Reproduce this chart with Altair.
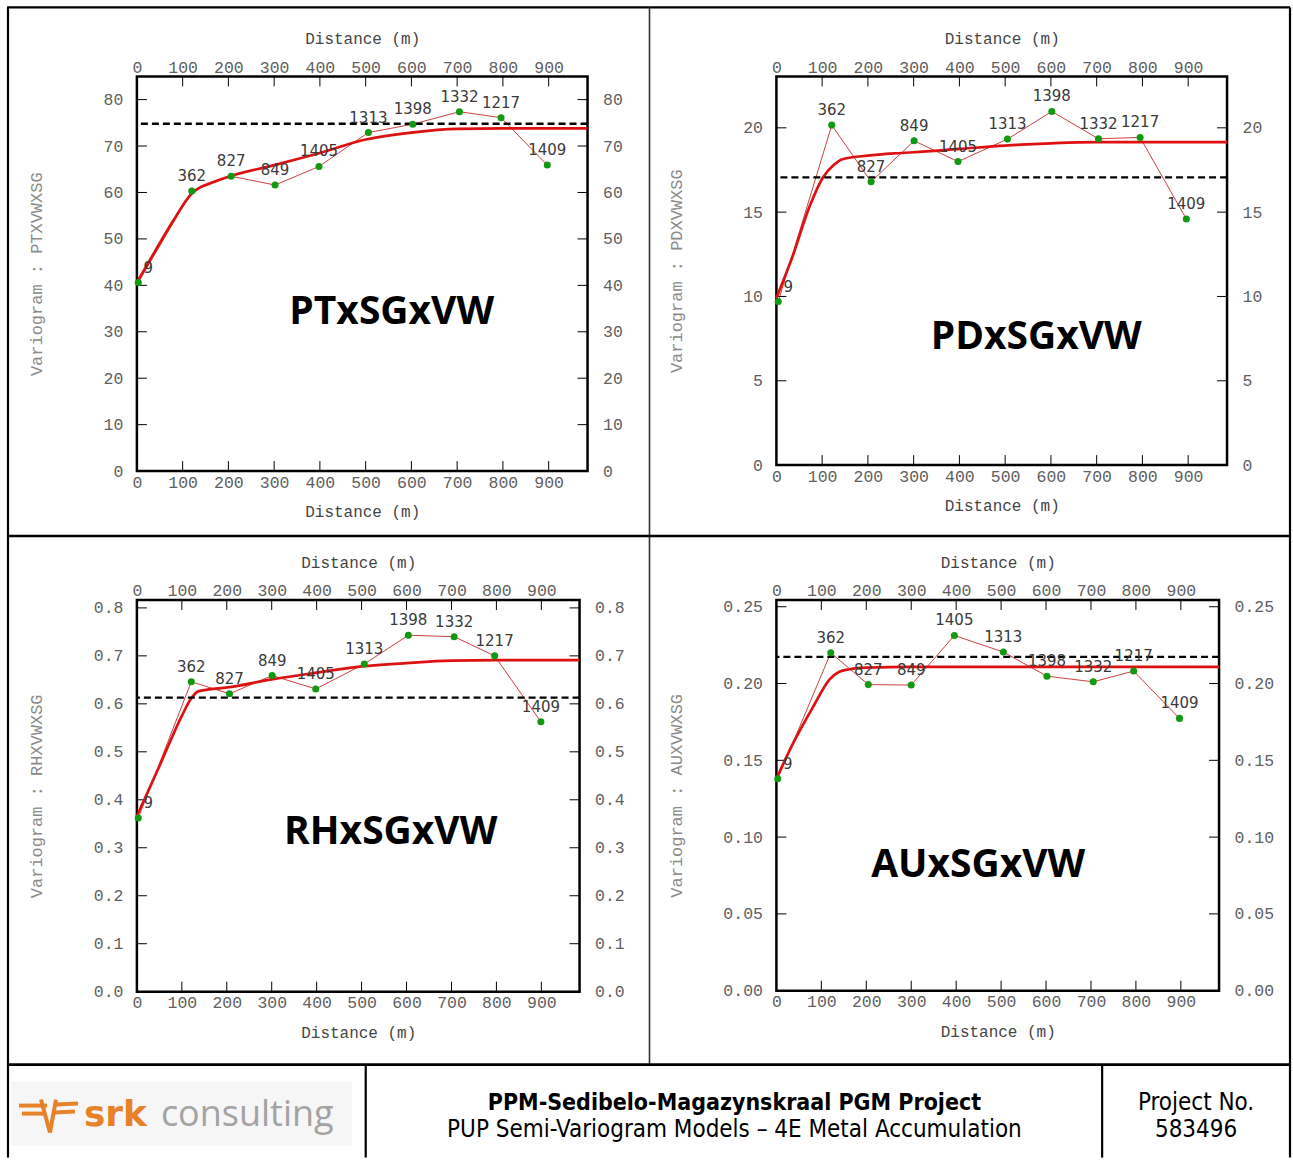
import altair as alt
import pandas as pd

# ---------------- data ----------------
x_ticks = [0, 100, 200, 300, 400, 500, 600, 700, 800, 900]
x_max = 985
pairs = ["9", "362", "827", "849", "1405", "1313", "1398", "1332", "1217", "1409"]

pt_lag = [3, 120, 206, 302, 398, 506, 603, 705, 796, 897]
pt_gam = [40.6, 60.3, 63.5, 61.6, 65.6, 72.9, 74.7, 77.4, 76.1, 65.9]
pt_sill = 74.8
pt_mod_h = [0, 40, 80, 120, 140, 160, 200, 300, 400, 500, 600, 700, 800, 985]
pt_mod_g = [40.6, 47.4, 54.0, 59.8, 61.2, 62.0, 63.4, 65.9, 68.5, 71.4, 72.9, 73.7, 73.8, 73.8]
pt_yticks = [0, 10, 20, 30, 40, 50, 60, 70, 80]

pd_lag = [4, 121, 207, 301, 397, 505, 602, 704, 795, 896]
pd_gam = [9.7, 20.16, 16.8, 19.23, 18.0, 19.33, 20.97, 19.35, 19.43, 14.59]
pd_sill = 17.06
pd_mod_h = [0, 35, 72, 102, 124, 146, 200, 257, 300, 400, 500, 600, 700, 800, 985]
pd_mod_g = [9.9, 12.35, 15.3, 17.07, 17.76, 18.15, 18.35, 18.48, 18.55, 18.75, 18.95, 19.08, 19.15, 19.15, 19.15]
pd_yticks = [0, 5, 10, 15, 20]

rh_lag = [3, 121, 206, 301, 398, 506, 604, 706, 796, 899]
rh_gam = [0.362, 0.646, 0.621, 0.659, 0.631, 0.683, 0.743, 0.740, 0.700, 0.5625]
rh_sill = 0.613
rh_mod_h = [0, 50, 100, 120, 136, 160, 200, 300, 400, 500, 600, 700, 800, 985]
rh_mod_g = [0.366, 0.47, 0.575, 0.61, 0.626, 0.63, 0.634, 0.651, 0.665, 0.678, 0.685, 0.690, 0.691, 0.691]
rh_yticks = [0.0, 0.1, 0.2, 0.3, 0.4, 0.5, 0.6, 0.7, 0.8]

au_lag = [3, 121, 204.5, 300, 396, 505, 602, 705, 795, 897]
au_gam = [0.138, 0.220, 0.1993, 0.199, 0.2313, 0.2205, 0.2048, 0.2011, 0.2081, 0.1773]
au_sill = 0.2174
au_mod_h = [0, 37, 82, 118, 140, 163, 200, 300, 500, 700, 985]
au_mod_g = [0.138, 0.161, 0.185, 0.2026, 0.2077, 0.2093, 0.2103, 0.2108, 0.2108, 0.2108, 0.2108]
au_yticks = [0.0, 0.05, 0.10, 0.15, 0.20, 0.25]

MONO = "Liberation Mono"
one = pd.DataFrame({"k": [0]})


def panel(name, ytitle, lag, gam, sill, mh, mg, yticks, ymax, fmt, W, H, tx, ty):
    df = pd.DataFrame({"lag": lag, "gam": gam, "pairs": pairs})
    mdf = pd.DataFrame({"h": mh, "g": mg})
    sdf = pd.DataFrame({"s": [sill]})
    xtdf = pd.DataFrame({"t": x_ticks[1:]})
    ytdf = pd.DataFrame({"t": yticks[1:]})
    xs = alt.Scale(domain=[0, x_max], nice=False, zero=False)
    ys = alt.Scale(domain=[0, ymax], nice=False, zero=False)
    common = dict(labelFont=MONO, labelFontSize=16.5, labelColor="#606060", ticks=False,
                  domain=False, grid=False, labelFlush=False, labelOverlap=False)
    xb = alt.Axis(orient="bottom", values=x_ticks, title="Distance (m)", labelPadding=3,
                  titlePadding=13, titleFont=MONO, titleFontSize=16, titleFontWeight="normal",
                  titleColor="#444444", **common)
    xt = alt.Axis(orient="top", values=x_ticks, title="Distance (m)", labelPadding=1,
                  titlePadding=13, titleFont=MONO, titleFontSize=16, titleFontWeight="normal",
                  titleColor="#444444", **common)
    yl = alt.Axis(orient="left", values=yticks, format=fmt, title=ytitle, titleX=-100,
                  titleY=H / 2, titleBaseline="middle", titleFont=MONO, titleFontSize=17,
                  titleFontWeight="normal", titleColor="#8a8a8a", labelPadding=14, **common)
    yr = alt.Axis(orient="right", values=yticks, format=fmt, title=None, labelPadding=15, **common)

    thin = alt.Chart(df).mark_line(color="#cc4040", strokeWidth=1).encode(
        x=alt.X("lag:Q", scale=xs, axis=xb), y=alt.Y("gam:Q", scale=ys, axis=yl))
    model = alt.Chart(mdf).mark_line(color="#dd1111", strokeWidth=2.7, interpolate="monotone").encode(
        x=alt.X("h:Q", scale=xs, axis=None), y=alt.Y("g:Q", scale=ys, axis=None))
    sill_r = alt.Chart(sdf).mark_rule(color="black", strokeWidth=2.3, strokeDash=[7, 4]).encode(
        y=alt.Y("s:Q", scale=ys, axis=None))
    pts = alt.Chart(df).mark_circle(size=50, color="#119911", opacity=1).encode(
        x=alt.X("lag:Q", scale=xs, axis=None), y=alt.Y("gam:Q", scale=ys, axis=None))
    labs = alt.Chart(df.iloc[1:]).mark_text(dy=-15, font="DejaVu Sans", fontSize=15,
                                            color="#3a3a3a", clip=True).encode(
        x=alt.X("lag:Q", scale=xs, axis=None), y=alt.Y("gam:Q", scale=ys, axis=None), text="pairs:N")
    lab0 = alt.Chart(df.iloc[:1]).mark_text(dy=-15, dx=10, font="DejaVu Sans", fontSize=15,
                                            color="#3a3a3a", clip=True).encode(
        x=alt.X("lag:Q", scale=xs, axis=None), y=alt.Y("gam:Q", scale=ys, axis=None), text="pairs:N")
    tk = 10
    xt_top = alt.Chart(xtdf).mark_rule(color="black", strokeWidth=1).encode(
        x=alt.X("t:Q", scale=xs, axis=None), y=alt.value(0), y2=alt.value(tk))
    xt_bot = alt.Chart(xtdf).mark_rule(color="black", strokeWidth=1).encode(
        x=alt.X("t:Q", scale=xs, axis=None), y=alt.value(H - tk), y2=alt.value(H))
    yt_l = alt.Chart(ytdf).mark_rule(color="black", strokeWidth=1).encode(
        y=alt.Y("t:Q", scale=ys, axis=None), x=alt.value(0), x2=alt.value(tk))
    yt_r = alt.Chart(ytdf).mark_rule(color="black", strokeWidth=1).encode(
        y=alt.Y("t:Q", scale=ys, axis=None), x=alt.value(W - tk), x2=alt.value(W))
    ax2 = alt.Chart(df).mark_point(opacity=0).encode(
        x=alt.X("lag:Q", scale=xs, axis=xt), y=alt.Y("gam:Q", scale=ys, axis=yr))
    big = alt.Chart(one).mark_text(text=name, font="Open Sans", fontSize=39, fontWeight="bold",
                                   color="black").encode(x=alt.value(tx), y=alt.value(ty))
    layers = [thin, xt_top, xt_bot, yt_l, yt_r, model, sill_r, pts, labs, lab0, ax2, big]
    return layers


# geometry (plot origins); decorations are drawn relative to panel 1's origin
OX, OY = 137, 77
YB = 1159


def R(x, x2, y, y2, sw=2, color="black"):
    return alt.Chart(one).mark_rule(color=color, strokeWidth=sw).encode(
        x=alt.value(x - OX), x2=alt.value(x2 - OX), y=alt.value(y - OY), y2=alt.value(y2 - OY))


def T(txt, x, y, size, weight="normal", font="Liberation Sans Narrow, DejaVu Sans Condensed, sans-serif",
      color="black", align="center"):
    return alt.Chart(one).mark_text(text=txt, font=font, fontSize=size, fontWeight=weight, color=color,
                                    align=align, baseline="alphabetic").encode(
        x=alt.value(x - OX), y=alt.value(y - OY))


deco = [
    R(7, 1291, 8, 8, 2.2),
    R(8, 8, 8, YB, 2.2),
    R(1291, 1291, 8, YB, 2.2),
    R(650, 650, 8, 1066, 1.6, "#333333"),
    R(8, 1291, 537, 537, 2.6),
    R(8, 1291, 1066, 1066, 2.6),
    R(366, 366, 1066, YB, 2.2),
    R(1103, 1103, 1066, YB, 2.2),
    alt.Chart(one).mark_rect(color="#f6f6f6").encode(
        x=alt.value(11 - OX), x2=alt.value(352 - OX), y=alt.value(1083 - OY), y2=alt.value(1147 - OY)),
    R(19, 47, 1107, 1107, 4, "#e8822a"),
    R(22, 45, 1115, 1115, 4, "#e8822a"),
    R(56, 78, 1106, 1105, 4, "#e8822a"),
    R(55, 75, 1114, 1113, 4, "#e8822a"),
    R(41, 50, 1101, 1134, 4, "#e8822a"),
    R(50, 56, 1134, 1101, 4, "#e8822a"),
    T("srk", 84, 1127, 36, "bold", "DejaVu Sans", "#e8822a", "left"),
    T("consulting", 161, 1127, 36, "normal", "Open Sans", "#a3a3a3", "left"),
    T("PPM-Sedibelo-Magazynskraal PGM Project", 735, 1111, 23, "bold"),
    T("PUP Semi-Variogram Models \u2013 4E Metal Accumulation", 735, 1138, 24),
    T("Project No.", 1197, 1111, 24),
    T("583496", 1197, 1138, 24),
]

W1, H1 = 451, 395
W2, H2 = 451, 389
W3, H3 = 443, 392
W4, H4 = 443, 391

p1 = alt.layer(*(panel("PTxSGxVW", "Variogram : PTXVWXSG", pt_lag, pt_gam, pt_sill, pt_mod_h, pt_mod_g,
                       pt_yticks, 85.0, "d", W1, H1, 255, 236) + deco)).resolve_axis(
    x="independent", y="independent").properties(width=W1, height=H1)
p2 = alt.layer(*panel("PDxSGxVW", "Variogram : PDXVWXSG", pd_lag, pd_gam, pd_sill, pd_mod_h, pd_mod_g,
                      pd_yticks, 23.05, "d", W2, H2, 260, 261)).resolve_axis(
    x="independent", y="independent").properties(width=W2, height=H2)
p3 = alt.layer(*panel("RHxSGxVW", "Variogram : RHXVWXSG", rh_lag, rh_gam, rh_sill, rh_mod_h, rh_mod_g,
                      rh_yticks, 0.8165, ".1f", W3, H3, 254, 232)).resolve_axis(
    x="independent", y="independent").properties(width=W3, height=H3)
p4 = alt.layer(*panel("AUxSGxVW", "Variogram : AUXVWXSG", au_lag, au_gam, au_sill, au_mod_h, au_mod_g,
                      au_yticks, 0.2544, ".2f", W4, H4, 202, 265)).resolve_axis(
    x="independent", y="independent").properties(width=W4, height=H4)

chart = alt.concat(p1, p2, p3, p4, columns=2, spacing={"row": 129, "column": 189},
                   bounds="flush", align="all").properties(
    padding={"left": 4, "top": 4, "right": 0, "bottom": 0}, background="white"
).configure_view(stroke="black", strokeWidth=2.5)

chart.save("out.html", embed_options={"renderer": "svg", "actions": False})
